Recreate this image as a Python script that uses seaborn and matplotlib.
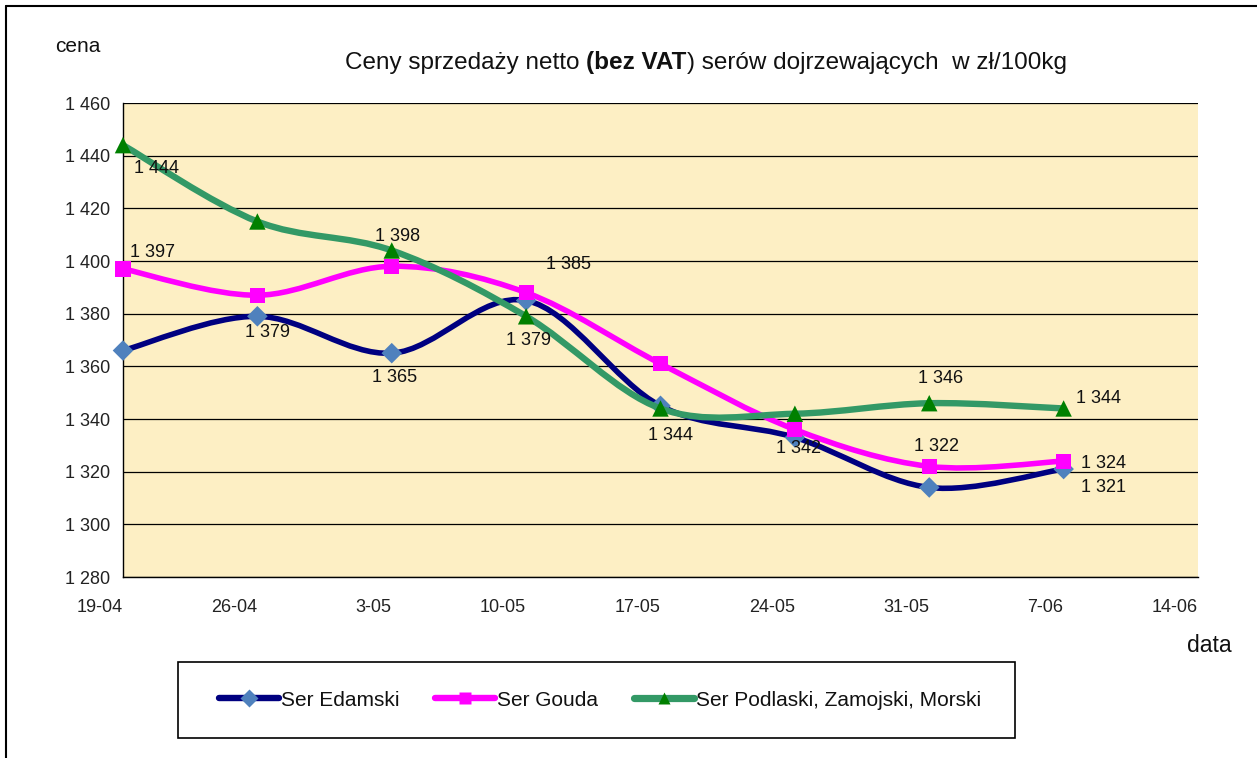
import numpy as np
import pandas as pd
import matplotlib
matplotlib.use("Agg")
import matplotlib.pyplot as plt
import seaborn as sns
from matplotlib.path import Path
from matplotlib.patches import PathPatch, Rectangle
from matplotlib.lines import Line2D

# ---------------- data ----------------
dates = ["19-04", "26-04", "3-05", "10-05", "17-05", "24-05", "31-05", "7-06", "14-06"]
edamski = [1366, 1379, 1365, 1385, 1345, 1333, 1314, 1321]
gouda = [1397, 1387, 1398, 1388, 1361, 1336, 1322, 1324]
podlaski = [1444, 1415, 1404, 1379, 1344, 1342, 1346, 1344]
series_names = ["Ser Edamski", "Ser Gouda", "Ser Podlaski, Zamojski, Morski"]
y_ticks = [1280, 1300, 1320, 1340, 1360, 1380, 1400, 1420, 1440, 1460]
title_parts = ["Ceny sprzedaży netto ", "(bez VAT", ") serów dojrzewających  w zł/100kg"]

# which points get a value label: (series index, point index) -> pixel offset
label_offsets = {
    (2, 0): (34, -23), (1, 0): (29, 16), (0, 1): (10, -16), (1, 2): (6, 30),
    (0, 2): (3, -24), (0, 3): (42, 36), (2, 3): (2, -24), (2, 4): (10, -27),
    (2, 5): (4, -35), (2, 6): (11, 25), (1, 6): (7, 20), (2, 7): (35, 10),
    (1, 7): (40, -2), (0, 7): (40, -18),
}

# ---------------- style ----------------
sns.set_theme(style="white")
plt.rcParams["font.family"] = ["Liberation Sans", "DejaVu Sans"]

line_colors = ["#000080", "#FF00FF", "#339966"]
marker_colors = ["#4F81BD", "#FF00FF", "#008000"]
markers = ["D", "s", "^"]
marker_sizes = [110, 120, 140]
line_widths = [4.0, 4.0, 4.6]

W, H = 1257, 758
fig = plt.figure(figsize=(W / 100, H / 100), dpi=100)
ax = fig.add_axes([123 / W, 1 - 577 / H, (1198 - 123) / W, (577 - 103) / H])
ax.set_facecolor("#FDEFC4")

x_pos = np.arange(len(dates))


def smooth_path(xs, ys):
    n = len(xs)
    verts = [(xs[0], ys[0])]
    codes = [Path.MOVETO]
    for i in range(n - 1):
        a = i - 1 if i > 0 else 0
        d = i + 2 if i + 2 < n else n - 1
        c1 = (xs[i] + (xs[i + 1] - xs[a]) / 6, ys[i] + (ys[i + 1] - ys[a]) / 6)
        c2 = (xs[i + 1] - (xs[d] - xs[i]) / 6, ys[i + 1] - (ys[d] - ys[i]) / 6)
        verts += [c1, c2, (xs[i + 1], ys[i + 1])]
        codes += [Path.CURVE4] * 3
    return Path(verts, codes)


all_series = [edamski, gouda, podlaski]
for k, vals in enumerate(all_series):
    xs = x_pos[: len(vals)]
    patch = PathPatch(smooth_path(list(xs), list(vals)), fill=False,
                      edgecolor=line_colors[k], lw=line_widths[k],
                      capstyle="round", joinstyle="round", zorder=3 + 2 * k)
    ax.add_patch(patch)
    df = pd.DataFrame({"x": xs, "y": vals})
    sns.scatterplot(data=df, x="x", y="y", marker=markers[k], s=marker_sizes[k],
                    color=marker_colors[k], edgecolor="none", linewidth=0,
                    ax=ax, zorder=4 + 2 * k, legend=False, clip_on=False)


def fmt(v):
    return f"{int(v):,}".replace(",", " ")


for (k, i), (dx, dy) in label_offsets.items():
    v = all_series[k][i]
    ax.annotate(fmt(v), (x_pos[i], v), xytext=(dx, dy), textcoords="offset pixels",
                ha="center", va="center", fontsize=13, color="#111111", zorder=10)

ax.set_xlim(0, len(dates) - 1)
ax.set_ylim(y_ticks[0], y_ticks[-1])
ax.set_yticks(y_ticks)
ax.set_yticklabels([fmt(v) for v in y_ticks])
ax.set_xticks(x_pos)
ax.set_xticklabels(dates, ha="right")
ax.yaxis.grid(True, color="black", lw=0.9)
ax.set_axisbelow(True)
for s in ["top", "right"]:
    ax.spines[s].set_visible(False)
for s in ["left", "bottom"]:
    ax.spines[s].set_color("black")
    ax.spines[s].set_linewidth(1.0)
ax.tick_params(axis="both", which="both", direction="out", length=6, width=1,
               color="black", labelsize=13, labelcolor="#222222")
ax.tick_params(axis="y", pad=3)
ax.tick_params(axis="x", pad=10)
ax.set_xlabel("")
ax.set_ylabel("")

# axis titles
fig.text(55 / W, 1 - 47 / H, "cena", fontsize=15, ha="left", va="center", color="#111111")
fig.text(1232 / W, 1 - 645 / H, "data", fontsize=16.5, ha="right", va="center", color="#111111")

# title with bold part
texts = []
for j, part in enumerate(title_parts):
    t = fig.text(0, 1 - 63 / H, part, fontsize=17.5, ha="left", va="center",
                 fontweight="bold" if j == 1 else "normal", color="#111111")
    texts.append(t)
fig.canvas.draw()
r = fig.canvas.get_renderer()
widths = [t.get_window_extent(r).width for t in texts]
x0 = 706 - sum(widths) / 2
for t, w in zip(texts, widths):
    t.set_x(x0 / W)
    x0 += w

# legend
fig.patches.append(Rectangle((178 / W, 1 - 738 / H), (1015 - 178) / W, (738 - 662) / H,
                             transform=fig.transFigure, fill=False, edgecolor="black",
                             lw=1.2, zorder=5))
handles = [Line2D([], [], color=line_colors[k], lw=line_widths[k] + 0.6, marker=markers[k],
                  markersize=9, markerfacecolor=marker_colors[k], markeredgecolor="none",
                  solid_capstyle="round")
           for k in range(3)]
fig.legend(handles, series_names, loc="center", bbox_to_anchor=(600 / W, 1 - 700 / H),
           ncol=3, frameon=False, fontsize=15, handlelength=2.9, handletextpad=0.1,
           columnspacing=1.7, labelcolor="#111111")

# outer frame lines
fig.add_artist(Line2D([6 / W, 6 / W], [0, 1 - 6 / H], transform=fig.transFigure,
                      color="black", lw=1.5))
fig.add_artist(Line2D([6 / W, 1], [1 - 6 / H, 1 - 6 / H], transform=fig.transFigure,
                      color="black", lw=1.5))

fig.savefig("out.png", dpi=100)
